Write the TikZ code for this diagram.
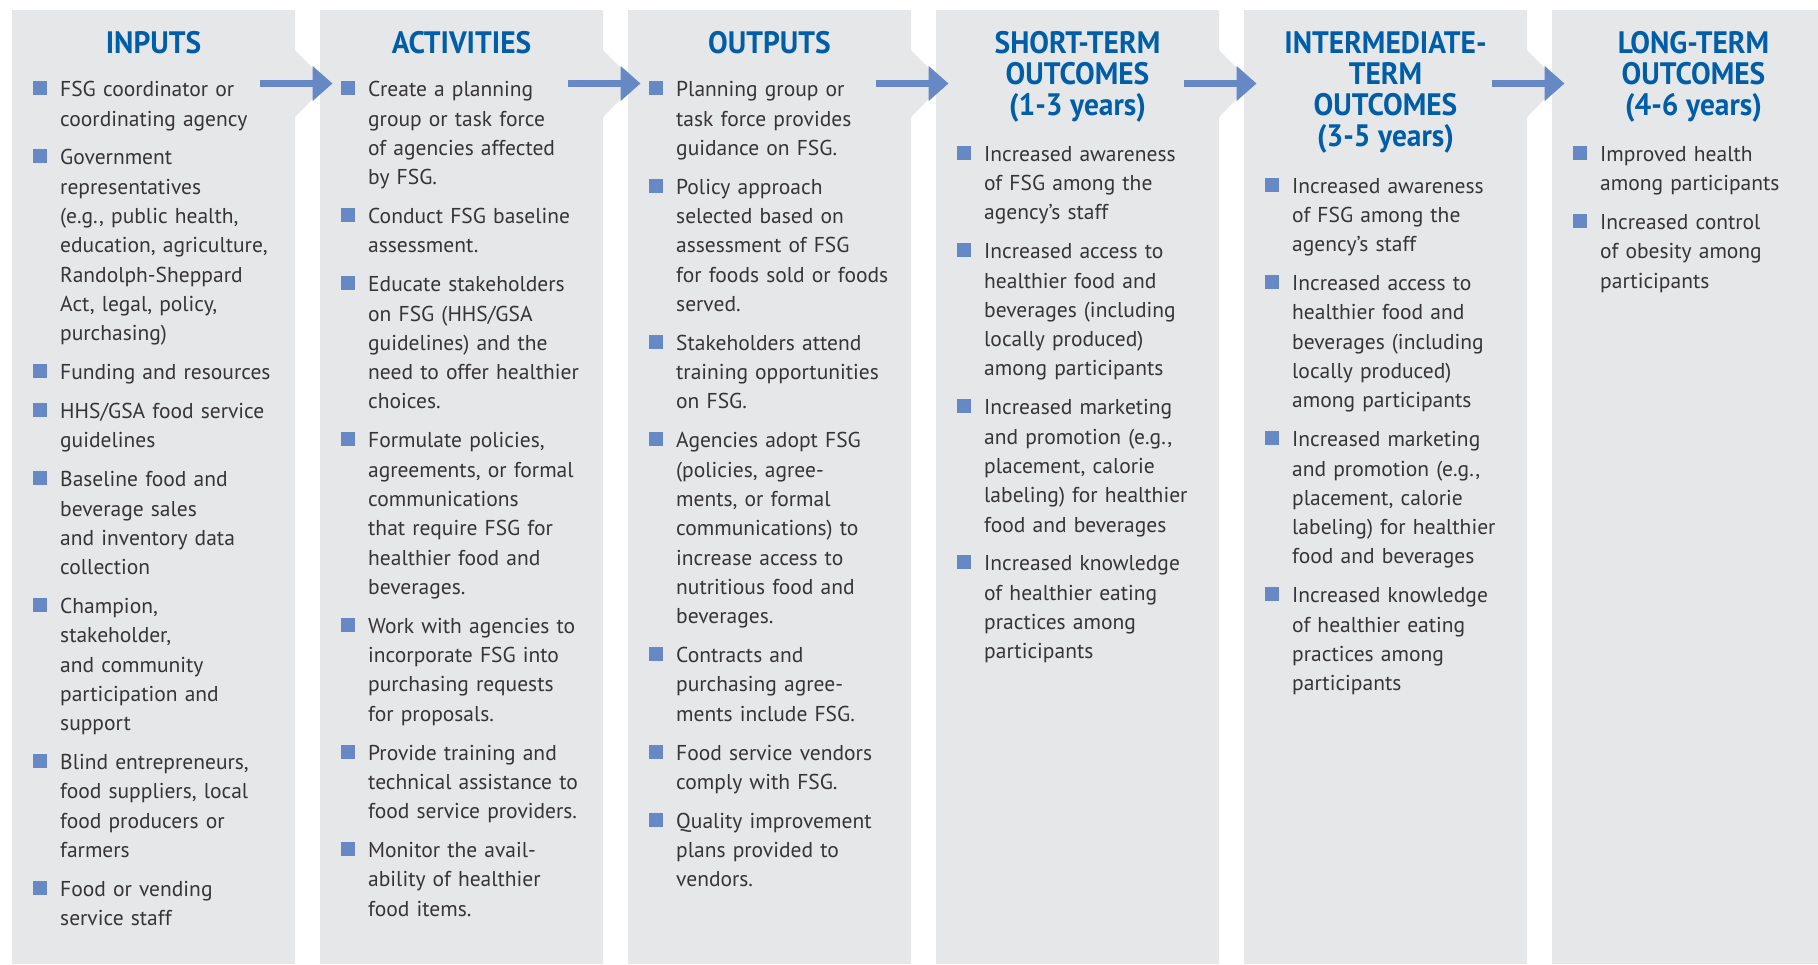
\documentclass[tikz,border=0pt]{standalone}
\usepackage{fontspec}
\setmainfont{PT Sans}
\newfontfamily\headfont{PT Sans}[FakeStretch=0.95]
\usetikzlibrary{arrows.meta}
\usetikzlibrary{positioning}

\definecolor{panelgray}{RGB}{230,231,232}
\definecolor{headblue}{RGB}{0,94,168}
\definecolor{markblue}{RGB}{102,136,196}
\definecolor{bodytext}{RGB}{55,52,53}

\tikzset{
  panel/.style={fill=panelgray},
  flow/.style={draw=markblue, line width=6.5pt, -{Triangle[length=20pt,width=34pt]}},
  heading/.style={anchor=north, align=center, text=headblue, inner sep=0pt,
    font=\headfont\bfseries\fontsize{31}{31}\selectfont, execute at begin node=\strut},
  entry/.style={anchor=north west, align=left, text width=240pt, text=bodytext, inner sep=0pt,
    font=\fontsize{21.5}{29.3}\selectfont,
    execute at begin node={\makebox[0pt][r]{\color{markblue}\rule[1.5pt]{14pt}{14pt}\hspace{13pt}}\strut},
    execute at end node=\strut},
}

\begin{document}
\begin{tikzpicture}[x=1pt,y=-1pt]

        \def\gap{9.2pt}

        \useasboundingbox (0,0) rectangle (1818,964);

        % panels with their pointed right side
        \foreach \x [count=\i] in {12,320,628,936,1244} {
          \fill[panel] (\x,10) -- ++(283,0) -- ++(0,40) -- ++(33,33.5) -- ++(-33,33.5) -- (\x+283,964) -- (\x,964) -- cycle;
          \coordinate (tail\i) at (\x+248,83.5);
          \coordinate (tip\i) at (\x+320.5,83.5);
        }
        \fill[panel] (1552,10) rectangle (1818,964);

        \foreach \i in {1,...,5}
          \draw[flow] (tail\i) -- (tip\i);

        % headings
        \node[heading] (hin) at (153.5,31.6) {INPUTS};
        \node[heading] (hact) at (461.5,31.6) {ACTIVITIES};
        \node[heading] (hout) at (769.5,31.6) {OUTPUTS};
        \node[heading] (hst) at (1077.5,31.6) {SHORT-TERM\\OUTCOMES\\(1-3 years)};
        \node[heading] (hmid) at (1385.5,31.6) {INTERMEDIATE-\\TERM\\OUTCOMES\\(3-5 years)};
        \node[heading] (hlt) at (1693.5,31.6) {LONG-TERM\\OUTCOMES\\(4-6 years)};

        % inputs
        \node[entry] (in1) at (60,76) {FSG coordinator or\\coordinating agency};
        \node[entry, below right=\gap and 0pt of in1.south west] (in2) {Government\\representatives\\(e.g., public health,\\education, agriculture,\\Randolph-Sheppard\\Act, legal, policy,\\purchasing)};
        \node[entry, below right=\gap and 0pt of in2.south west] (in3) {Funding and resources};
        \node[entry, below right=\gap and 0pt of in3.south west] (in4) {HHS/GSA food service\\guidelines};
        \node[entry, below right=\gap and 0pt of in4.south west] (in5) {Baseline food and\\beverage sales\\and inventory data\\collection};
        \node[entry, below right=\gap and 0pt of in5.south west] (in6) {Champion,\\stakeholder,\\and community\\participation and\\support};
        \node[entry, below right=\gap and 0pt of in6.south west] (in7) {Blind entrepreneurs,\\food suppliers, local\\food producers or\\farmers};
        \node[entry, below right=\gap and 0pt of in7.south west] (in8) {Food or vending\\service staff};

        % activities
        \node[entry] (act1) at (368,76) {Create a planning\\group or task force\\of agencies affected\\by FSG.};
        \node[entry, below right=\gap and 0pt of act1.south west] (act2) {Conduct FSG baseline\\assessment.};
        \node[entry, below right=\gap and 0pt of act2.south west] (act3) {Educate stakeholders\\on FSG (HHS/GSA\\guidelines) and the\\need to offer healthier\\choices.};
        \node[entry, below right=\gap and 0pt of act3.south west] (act4) {Formulate policies,\\agreements, or formal\\communications\\that require FSG for\\healthier food and\\beverages.};
        \node[entry, below right=\gap and 0pt of act4.south west] (act5) {Work with agencies to\\incorporate FSG into\\purchasing requests\\for proposals.};
        \node[entry, below right=\gap and 0pt of act5.south west] (act6) {Provide training and\\technical assistance to\\food service providers.};
        \node[entry, below right=\gap and 0pt of act6.south west] (act7) {Monitor the avail-\\ability of healthier\\food items.};

        % outputs
        \node[entry] (out1) at (676,76) {Planning group or\\task force provides\\guidance on FSG.};
        \node[entry, below right=\gap and 0pt of out1.south west] (out2) {Policy approach\\selected based on\\assessment of FSG\\for foods sold or foods\\served.};
        \node[entry, below right=\gap and 0pt of out2.south west] (out3) {Stakeholders attend\\training opportunities\\on FSG.};
        \node[entry, below right=\gap and 0pt of out3.south west] (out4) {Agencies adopt FSG\\(policies, agree-\\ments, or formal\\communications) to\\increase access to\\nutritious food and\\beverages.};
        \node[entry, below right=\gap and 0pt of out4.south west] (out5) {Contracts and\\purchasing agree-\\ments include FSG.};
        \node[entry, below right=\gap and 0pt of out5.south west] (out6) {Food service vendors\\comply with FSG.};
        \node[entry, below right=\gap and 0pt of out6.south west] (out7) {Quality improvement\\plans provided to\\vendors.};

        % short-term outcomes
        \node[entry] (st1) at (984,140.5) {Increased awareness\\of FSG among the\\agency’s staff};
        \node[entry, below right=\gap and 0pt of st1.south west] (st2) {Increased access to\\healthier food and\\beverages (including\\locally produced)\\among participants};
        \node[entry, below right=\gap and 0pt of st2.south west] (st3) {Increased marketing\\and promotion (e.g.,\\placement, calorie\\labeling) for healthier\\food and beverages};
        \node[entry, below right=\gap and 0pt of st3.south west] (st4) {Increased knowledge\\of healthier eating\\practices among\\participants};

        % intermediate-term outcomes
        \node[entry] (mid1) at (1292,172.4) {Increased awareness\\of FSG among the\\agency’s staff};
        \node[entry, below right=\gap and 0pt of mid1.south west] (mid2) {Increased access to\\healthier food and\\beverages (including\\locally produced)\\among participants};
        \node[entry, below right=\gap and 0pt of mid2.south west] (mid3) {Increased marketing\\and promotion (e.g.,\\placement, calorie\\labeling) for healthier\\food and beverages};
        \node[entry, below right=\gap and 0pt of mid3.south west] (mid4) {Increased knowledge\\of healthier eating\\practices among\\participants};

        % long-term outcomes
        \node[entry] (lt1) at (1600,140.5) {Improved health\\among participants};
        \node[entry, below right=\gap and 0pt of lt1.south west] (lt2) {Increased control\\of obesity among\\participants};

      \end{tikzpicture}
\end{document}
